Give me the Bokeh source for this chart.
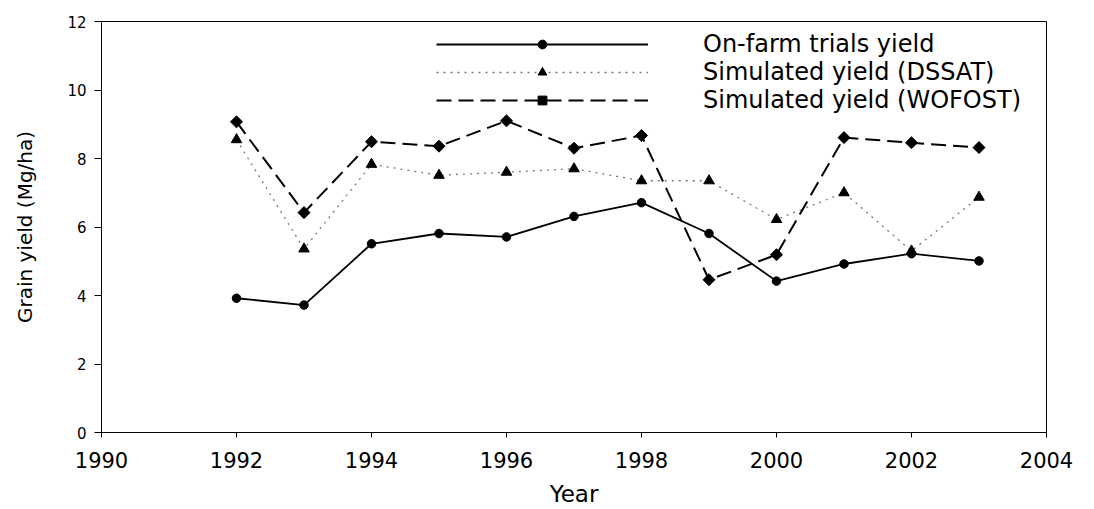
import math
from bokeh.plotting import figure
from bokeh.models import Range1d, Legend, LegendItem, FixedTicker
from bokeh.embed import file_html
from bokeh.resources import INLINE

years = [1992, 1993, 1994, 1995, 1996, 1997, 1998, 1999, 2000, 2001, 2002, 2003]
onfarm = [3.92, 3.72, 5.51, 5.81, 5.71, 6.31, 6.71, 5.81, 4.42, 4.92, 5.22, 5.01]
dssat = [8.55, 5.36, 7.83, 7.51, 7.6, 7.7, 7.35, 7.35, 6.22, 7.0, 5.3, 6.87]
wofost = [9.07, 6.42, 8.49, 8.36, 9.1, 8.3, 8.67, 4.46, 5.19, 8.61, 8.46, 8.32]
labels = ["On-farm trials yield", "Simulated yield (DSSAT)", "Simulated yield (WOFOST)"]
x_ticks = [1990, 1992, 1994, 1996, 1998, 2000, 2002, 2004]
y_ticks = [0, 2, 4, 6, 8, 10, 12]

FONT = "DejaVu Sans"

p = figure(width=1094, height=509, output_backend="svg", toolbar_location=None,
           x_range=Range1d(1990, 2004), y_range=Range1d(0, 12),
           min_border_left=101, min_border_right=48, min_border_top=21, min_border_bottom=77)
p.grid.visible = False
p.outline_line_color = "black"
p.outline_line_width = 1
p.background_fill_color = "white"
p.border_fill_color = "white"

for ax in (p.xaxis[0], p.yaxis[0]):
    ax.axis_line_color = "black"
    ax.major_tick_line_color = "black"
    ax.minor_tick_line_color = None
    ax.major_label_text_font = FONT
    ax.axis_label_text_font = FONT
    ax.axis_label_text_font_style = "normal"
    ax.major_label_text_color = "black"
    ax.axis_label_text_color = "black"

p.xaxis.ticker = FixedTicker(ticks=x_ticks)
p.yaxis.ticker = FixedTicker(ticks=y_ticks)
p.xaxis.major_tick_in = 0
p.xaxis.major_tick_out = 5
p.yaxis.major_tick_in = 0
p.yaxis.major_tick_out = 7
p.xaxis.major_label_text_font_size = "21px"
p.yaxis.major_label_text_font_size = "15px"
p.xaxis.axis_label = "Year"
p.yaxis.axis_label = "Grain yield (Mg/ha)"
p.xaxis.axis_label_text_font_size = "23px"
p.yaxis.axis_label_text_font_size = "20px"
p.xaxis.major_label_standoff = 14
p.yaxis.major_label_standoff = 8
p.xaxis.axis_label_standoff = 10
p.yaxis.axis_label_standoff = 27

l1 = p.line(years, onfarm, line_color="black", line_width=1.8)
m1 = p.scatter(years, onfarm, marker="circle", size=8.5, color="black")
l2 = p.line(years, dssat, line_color="#777777", line_width=1.3, line_dash="2 5")
m2 = p.scatter(years, dssat, marker="triangle", size=10.5, color="black")
l3 = p.line(years, wofost, line_color="black", line_width=2, line_dash="15 7")
m3 = p.scatter(years, wofost, marker="square", size=8.5, angle=math.pi / 4, color="black")

legend = Legend(items=[LegendItem(label=labels[0], renderers=[l1, m1]),
                       LegendItem(label=labels[1], renderers=[l2, m2]),
                       LegendItem(label=labels[2], renderers=[l3, m3])],
                location=(335, 318), glyph_width=212, glyph_height=22,
                label_height=27, spacing=0, padding=0, margin=0,
                label_standoff=55, label_text_font=FONT, label_text_font_size="24px",
                label_text_color="black",
                background_fill_alpha=0, border_line_color=None)
p.add_layout(legend, "center")

open("out.html", "w").write(file_html(p, INLINE))
